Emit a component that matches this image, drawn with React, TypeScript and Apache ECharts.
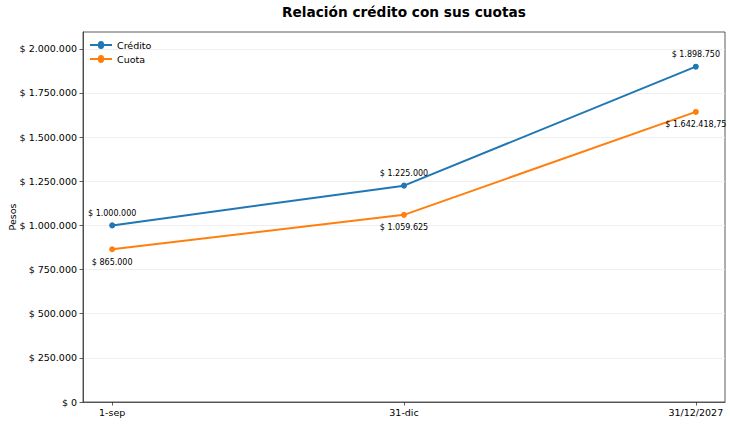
import React, { useEffect, useRef } from "react";
import * as echarts from "echarts";

const categories = ["1-sep", "31-dic", "31/12/2027"];
const credito = [1000000, 1225000, 1898750];
const cuota = [865000, 1059625, 1642418.75];
const yTicks = [0, 250000, 500000, 750000, 1000000, 1250000, 1500000, 1750000, 2000000];
const yAxisTitle = "Pesos";

const FONT = "DejaVu Sans";

function fmt(v: number): string {
  const neg = v < 0;
  const abs = Math.abs(v);
  const intPart = Math.floor(abs);
  const dec = Math.round((abs - intPart) * 100);
  let s = String(intPart).replace(/\B(?=(\d{3})+(?!\d))/g, ".");
  if (dec > 0) s += "," + String(dec).padStart(2, "0");
  return "$ " + (neg ? "-" : "") + s;
}

const ICON = "path://M0,4L8,4A3,3 0 1,1 14,4L22,4L22,6L14,6A3,3 0 1,1 8,6L0,6Z";

export default function App() {
  const ref = useRef<HTMLDivElement>(null);
  useEffect(() => {
    document.body.style.margin = "0";
    document.body.style.overflow = "hidden";
    if (!ref.current) return;
    const chart = echarts.init(ref.current, null, { renderer: "svg" });
    const mk = (vals: number[]) => vals.map((v, i) => [i, v]);
    chart.setOption({
      animation: false,
      textStyle: { fontFamily: FONT },
      title: {
        text: "Relación crédito con sus cuotas",
        left: 277,
        top: 0,
        textStyle: { fontFamily: FONT, fontSize: 13.7, fontWeight: "bold", color: "#000" },
      },
      legend: {
        left: 85,
        top: 35,
        orient: "vertical",
        itemGap: 4,
        itemWidth: 22,
        itemHeight: 10,
        textStyle: { fontFamily: FONT, fontSize: 9.5, color: "#000" },
        data: [
          { name: "Crédito", icon: ICON },
          { name: "Cuota", icon: ICON },
        ],
      },
      graphic: [
        {
          type: "text",
          x: 12,
          y: 217,
          rotation: Math.PI / 2,
          style: {
            text: yAxisTitle,
            fontFamily: FONT,
            fontSize: 9.5,
            fill: "#000",
            align: "center",
            verticalAlign: "middle",
          },
        },
      ],
      grid: {
        left: 83,
        right: 5,
        top: 32,
        bottom: 22,
        outerBoundsMode: "none",
        containLabel: false,
        show: true,
        borderColor: "#333",
        borderWidth: 0.8,
      },
      xAxis: {
        type: "value",
        min: -0.1,
        max: 2.1,
        splitLine: { show: false },
        axisLine: { show: true, onZero: false, lineStyle: { color: "#333", width: 0.8 } },
        axisTick: { show: true, customValues: [0, 1, 2], length: 3.5, lineStyle: { color: "#333", width: 0.8 } },
        axisLabel: {
          customValues: [0, 1, 2],
          formatter: (v: number) => categories[Math.round(v)] ?? "",
          fontFamily: FONT,
          fontSize: 9.5,
          color: "#000",
          margin: 5,
        },
      },
      yAxis: {
        type: "value",
        min: 0,
        max: 2095000,
        axisLine: { show: true, onZero: false, lineStyle: { color: "#333", width: 0.8 } },
        axisTick: { show: true, customValues: yTicks, length: 3.5, lineStyle: { color: "#333", width: 0.8 } },
        axisLabel: {
          customValues: yTicks,
          formatter: (v: number) => fmt(v),
          fontFamily: FONT,
          fontSize: 9.5,
          color: "#000",
          margin: 6,
        },
        splitLine: { show: true, lineStyle: { color: "#ebebeb", width: 0.8 } },
      },
      series: [
        {
          name: "Crédito",
          type: "line",
          data: mk(credito),
          color: "#1f77b4",
          lineStyle: { width: 2 },
          symbol: "circle",
          symbolSize: 6,
          label: {
            show: true,
            position: "top",
            distance: 5,
            formatter: (p: any) => fmt(p.value[1]),
            fontFamily: FONT,
            fontSize: 8,
            color: "#000",
          },
        },
        {
          name: "Cuota",
          type: "line",
          data: mk(cuota),
          color: "#ff7f0e",
          lineStyle: { width: 2 },
          symbol: "circle",
          symbolSize: 6,
          label: {
            show: true,
            position: "bottom",
            distance: 6,
            formatter: (p: any) => fmt(p.value[1]),
            fontFamily: FONT,
            fontSize: 8,
            color: "#000",
          },
        },
      ],
    });
    return () => chart.dispose();
  }, []);
  return <div ref={ref} style={{ width: 730, height: 424 }} />;
}
